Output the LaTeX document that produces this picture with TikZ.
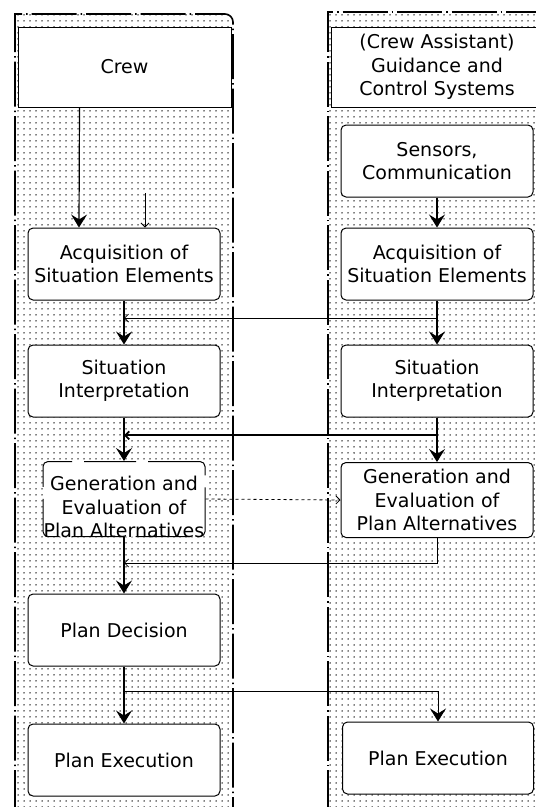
\documentclass[tikz,border=0pt]{standalone}
\usepackage{fontspec}
\setmainfont{DejaVu Sans}
\usetikzlibrary{arrows.meta,patterns.meta,calc}

\begin{document}
\begin{tikzpicture}[
                x=1pt, y=-1pt,
                font=\fontsize{19}{23.5}\selectfont,
                every node/.style={align=center, inner sep=0pt},
                box/.style={draw, line width=1pt, fill=white, rounded corners=5pt,
                  minimum width=192pt, minimum height=72pt},
                head/.style={draw, line width=1pt, fill=white, minimum height=80pt},
                lane/.style={line width=1.6pt, dash pattern=on 45pt off 4pt on 1.5pt off 4pt},
                dotted fill/.style={pattern={Dots[distance=6pt,radius=0.75pt]}},
                line width=1.2pt,
                tiny/.tip={Straight Barb[length=4pt,width=8pt]},
                >={Stealth[length=13pt,width=16pt,inset=5pt]},
              ]
              \useasboundingbox (0,0) rectangle (536,807);
              \fill[dotted fill] (15,815) -- (15,14) -- (225,14) to[out=0,in=90] (233,22) -- (233,815) -- cycle;
              \fill[dotted fill] (328,815) rectangle (545,12);
              \draw[lane] (15,815) -- (15,14) -- (225,14) to[out=0,in=90] (233,22) -- (233,815);
              \draw[lane] (328,815) -- (328,12) -- (545,12);
              \node[head, minimum width=213pt] at (124.5,67) (crew) {Crew} ;
              \node[head, minimum width=212pt] at (437,67) (gcs) {(Crew Assistant)\\Guidance and\\Control Systems} ;
              \node[box] at (437,161) (sens) {Sensors,\\Communication} ;
              \node[box] at (124,264) (acqL) {Acquisition of\\Situation Elements} ;
              \node[box] at (437,264) (acqR) {Acquisition of\\Situation Elements} ;
              \node[box] at (124,381) (sitL) {Situation\\Interpretation} ;
              \node[box] at (437,381) (sitR) {Situation\\Interpretation} ;
              \node[box, minimum width=162pt, minimum height=75pt, dash pattern=on 52pt off 12pt] at (124,499) (genL) {} ;
              \node at ([yshift=-8pt]genL.center) (genLtxt) {Generation and\\Evaluation of\\Plan Alternatives} ;
              \node[box, minimum height=75pt] at (437,500) (genR) {Generation and\\Evaluation of\\Plan Alternatives} ;
              \node[box] at (124,630) (dec) {Plan Decision} ;
              \node[box] at (124,760) (exeL) {Plan Execution} ;
              \node[box, minimum width=191pt] at (438,758) (exeR) {Plan Execution} ;
              \coordinate (cue) at (145,193) ;
              \coordinate (j1) at ($(acqR.south)!0.4!(sitR.north)$) ;
              \coordinate (j2) at ($(sitR.south)!0.4!(genR.north)$) ;
              \coordinate (j3) at ($(genL.south)!0.46!(dec.north)$) ;
              \coordinate (j4) at ($(dec.south)!0.43!(exeL.north)$) ;
              \draw[->] ([xshift=-45pt]crew.south) -- ([xshift=-45pt]acqL.north) ;
              \draw[-tiny, line width=0.8pt] (cue) -- (cue |- acqL.north) ;
              \draw[->] (sens) -- (acqR) ;
              \draw[->] (acqL) -- (sitL) ;
              \draw[->] (acqR) -- (sitR) ;
              \draw[-tiny, line width=0.8pt] (j1) -- (j1 -| acqL.south) ;
              \draw[->] (sitL) -- (genL) ;
              \draw[->] (sitR) -- (genR) ;
              \draw[-tiny, line width=1.8pt] (j2) -- (j2 -| sitL.south) ;
              \draw[-tiny, line width=0.8pt, dashed] (genL.east) -- (genR.west) ;
              \draw[-tiny, line width=0.8pt] (genR.south) |- (j3) ;
              \draw[->] (genL) -- (dec) ;
              \draw[->] (dec) -- (exeL) ;
              \draw[->, line width=0.8pt] (j4) -| (exeR.north) ;
              \end{tikzpicture}
\end{document}
